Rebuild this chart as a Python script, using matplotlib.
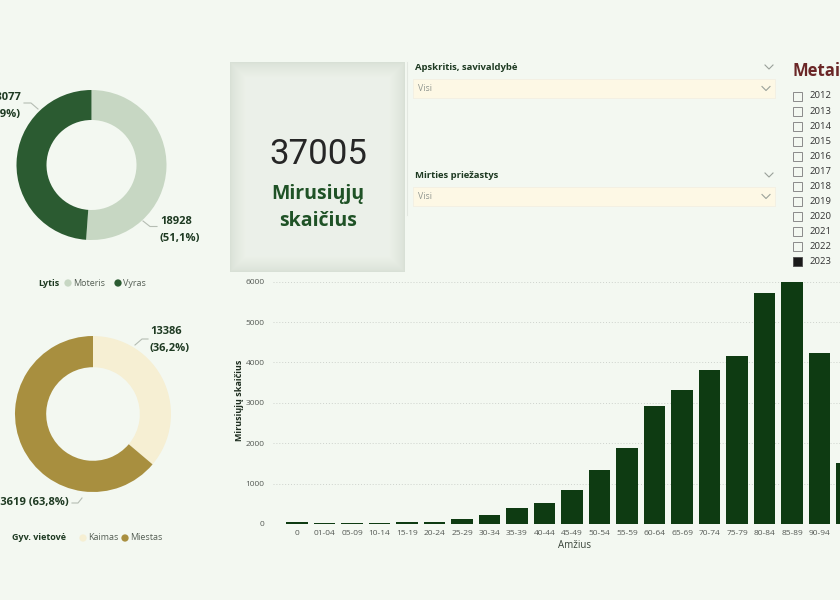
import numpy as np
import matplotlib
matplotlib.use("Agg")
from matplotlib import pyplot as plt
from matplotlib.patches import Rectangle

plt.rcParams['font.family'] = ['Open Sans', 'DejaVu Sans']

# duomenys
lytis_labels = ['Moteris', 'Vyras']
lytis_values = [18928, 18077]
lytis_pct = ['51,1%', '48,9%']

vietove_labels = ['Kaimas', 'Miestas']
vietove_values = [13386, 23619]
vietove_pct = ['36,2%', '63,8%']

amzius = ['0', '01-04', '05-09', '10-14', '15-19', '20-24', '25-29', '30-34', '35-39', '40-44',
          '45-49', '50-54', '55-59', '60-64', '65-69', '70-74', '75-79', '80-84', '85-89', '90-94', '95+']
mirusieji = [57, 20, 20, 20, 55, 60, 115, 225, 405, 520,
             835, 1330, 1885, 2910, 3310, 3815, 4160, 5730, 5990, 4225, 1510]

total = 37005
metai = [str(y) for y in range(2012, 2024)]
metai_pasirinkti = ['2023']
y_ticks = [0, 1000, 2000, 3000, 4000, 5000, 6000]

BG = '#f3f8f1'
W, H = 840, 600
fig = plt.figure(figsize=(8.4, 6.0), dpi=100, facecolor=BG)


def px_axes(x0, y0, w, h):
    # axes placed in pixel coords (top-left origin)
    return fig.add_axes([x0 / W, 1 - (y0 + h) / H, w / W, h / H])


# overlay for text and shapes
ov = fig.add_axes([0, 0, 1, 1], zorder=5)
ov.set_xlim(0, W)
ov.set_ylim(H, 0)
ov.axis('off')
ov.patch.set_alpha(0)

# --- donut: lytis ---
ax1 = px_axes(91.5 - 75, 165 - 75, 150, 150)
ax1.pie(lytis_values, colors=['#c7d7c3', '#2b5b31'], startangle=90, counterclock=False,
        wedgeprops=dict(width=0.4, linewidth=0))
ax1.set_xlim(-1, 1)
ax1.set_ylim(-1, 1)
ax1.set_aspect('equal')

lab_kw = dict(fontsize=8, fontweight='bold', color='#1e3a22', va='center')
ov.text(160, 222, str(lytis_values[0]), ha='left', **lab_kw)
ov.text(160, 239, '(' + lytis_pct[0] + ')', ha='left', **lab_kw)
ov.text(21, 97, str(lytis_values[1]), ha='right', **lab_kw)
ov.text(21, 115, '(' + lytis_pct[1] + ')', ha='right', **lab_kw)
ov.plot([143, 150, 157], [221, 226.5, 226.5], color='#b5bdb3', lw=0.8)
ov.plot([24, 31, 38], [103, 103, 109], color='#b5bdb3', lw=0.8)

ov.text(38, 283, 'Lytis', fontsize=6.5, fontweight='bold', color='#1e3a22', va='center')
ov.scatter([68, 118], [283, 283], s=18, c=['#c7d7c3', '#2b5b31'], zorder=6)
ov.text(73, 283, lytis_labels[0], fontsize=6.5, color='#555f55', va='center')
ov.text(123, 283, lytis_labels[1], fontsize=6.5, color='#555f55', va='center')

# --- donut: gyvenamoji vietove ---
ax2 = px_axes(93 - 78, 414 - 78, 156, 156)
ax2.pie(vietove_values, colors=['#f6efd3', '#a88f3f'], startangle=90, counterclock=False,
        wedgeprops=dict(width=0.4, linewidth=0))
ax2.set_xlim(-1, 1)
ax2.set_ylim(-1, 1)
ax2.set_aspect('equal')

ov.text(150, 332, str(vietove_values[0]), ha='left', **lab_kw)
ov.text(150, 349, '(' + vietove_pct[0] + ')', ha='left', **lab_kw)
ov.text(69, 503, str(vietove_values[1]) + ' (' + vietove_pct[1] + ')', ha='right', **lab_kw)
ov.plot([135, 142, 148], [345, 339, 339], color='#b5bdb3', lw=0.8)
ov.plot([72, 78, 82], [503, 503, 498], color='#b5bdb3', lw=0.8)

ov.text(12, 538, 'Gyv. vietovė', fontsize=6.5, fontweight='bold', color='#1e3a22', va='center')
ov.scatter([83, 125], [538, 538], s=18, c=['#f6efd3', '#a88f3f'], zorder=6)
ov.text(88, 538, vietove_labels[0], fontsize=6.5, color='#555f55', va='center')
ov.text(130, 538, vietove_labels[1], fontsize=6.5, color='#555f55', va='center')

# --- card ---
cx0, cy0, cw, ch = 230, 62, 175, 210
gy, gx = np.mgrid[0:ch, 0:cw]
d = np.minimum(np.minimum(gx, cw - 1 - gx), np.minimum(gy, ch - 1 - gy)).astype(float)
shade = np.clip(d / 16.0, 0, 1) ** 0.7
c_edge = np.array([0.85, 0.88, 0.84])
c_mid = np.array([0.925, 0.945, 0.915])
img = c_edge + (c_mid - c_edge) * shade[..., None]
ov.imshow(img, extent=(cx0, cx0 + cw, cy0 + ch, cy0), zorder=1, interpolation='bilinear')
ov.set_xlim(0, W)
ov.set_ylim(H, 0)
ov.text(318, 155, str(total), fontsize=25, family=['Roboto', 'DejaVu Sans'], color='#262626',
        ha='center', va='center', zorder=3)
ov.text(318, 194, 'Mirusiųjų', fontsize=14, fontweight='bold', color='#1f5226',
        ha='center', va='center', zorder=3)
ov.text(318, 221, 'skaičius', fontsize=14, fontweight='bold', color='#1f5226',
        ha='center', va='center', zorder=3)


# --- slicers ---
def chevron(x, y, c='#9aa19a'):
    ov.plot([x - 4, x, x + 4], [y - 2, y + 2, y - 2], color=c, lw=0.8)


ov.plot([407, 407], [62, 215], color='#e3e8e1', lw=0.8)
for title, ty, by in [('Apskritis, savivaldybė', 67, 79), ('Mirties priežastys', 175, 187)]:
    ov.text(415, ty, title, fontsize=6.8, fontweight='bold', color='#1e3a22', va='center')
    chevron(769, ty)
    ov.add_patch(Rectangle((413, by), 362, 19, facecolor='#fdf8e5', edgecolor='#f1ede0', lw=0.5))
    ov.text(418, by + 9.5, 'Visi', fontsize=6.3, color='#8f958f', va='center')
    chevron(766, by + 9.5)

# --- metai ---
ov.text(792, 71, 'Metai', fontsize=12, fontweight='bold', color='#6b2727', va='center')
for i, m in enumerate(metai):
    yy = 96 + i * 15.06
    sel = m in metai_pasirinkti
    ov.add_patch(Rectangle((793, yy - 4.5), 9, 9, facecolor='#1a1a1a' if sel else BG,
                           edgecolor='#555555' if sel else '#8a8a8a', lw=0.7))
    ov.text(810, yy, m, fontsize=6.8, color='#333333', va='center')

# --- bar chart ---
spacing = 27.5
left_px = 273
x_first = 297
ax3 = px_axes(left_px, 281.7, 900 - left_px, 524 - 281.7)
ax3.set_facecolor('none')
xs = np.arange(len(amzius))
ax3.bar(xs, mirusieji, width=0.79, color='#0e3b12', zorder=3)
x_lo = -(x_first - left_px) / spacing
ax3.set_xlim(x_lo, x_lo + (900 - left_px) / spacing)
ax3.set_ylim(0, 6000)
ax3.set_yticks(y_ticks)
ax3.set_xticks(xs)
ax3.set_xticklabels(amzius)
ax3.tick_params(axis='both', length=0, labelsize=6, labelcolor='#555a55', pad=4)
ax3.tick_params(axis='y', pad=6)
for s in ax3.spines.values():
    s.set_visible(False)
ax3.grid(axis='y', linestyle=(0, (1, 2)), color='#cdd2cc', lw=0.7, zorder=0)
ov.text(240, 400, 'Mirusiųjų skaičius', fontsize=6.5, fontweight='bold', color='#1e2e20',
        rotation=90, ha='center', va='center')
ov.text(575, 545, 'Amžius', fontsize=7, color='#3a453a', ha='center', va='center')

fig.savefig('out.png', dpi=100, facecolor=BG)
